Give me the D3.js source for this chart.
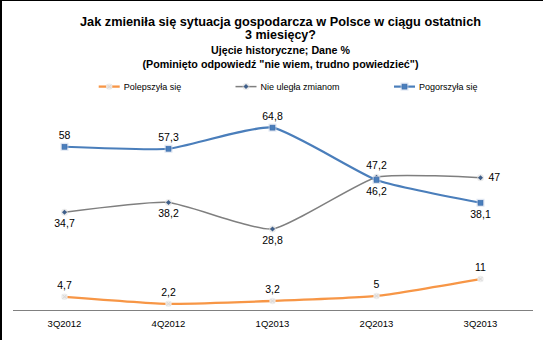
<!DOCTYPE html>
<html>
<head>
<meta charset="utf-8">
<script src="https://cdn.jsdelivr.net/npm/d3@7/dist/d3.min.js"></script>
<style>
  html, body { margin: 0; padding: 0; background: #fff; }
  svg { display: block; font-family: "Liberation Sans", Arial, sans-serif; }
</style>
</head>
<body>
<svg id="chart" width="543" height="340"></svg>
<script>
// Quarters on the x axis
const quarters = ["3Q2012", "4Q2012", "1Q2013", "2Q2013", "3Q2013"];

// Survey answers, percent
const better    = [4.7, 2.2, 3.2, 5, 11];        // Polepszyła się
const unchanged = [34.7, 38.2, 28.8, 47.2, 47];  // Nie uległa zmianom
const worse     = [58, 57.3, 64.8, 46.2, 38.1];  // Pogorszyła się

// Where each value label sits relative to its point
const betterPos    = ["above", "above", "above", "above", "above"];
const unchangedPos = ["below", "below", "below", "above", "right"];
const worsePos     = ["above", "above", "above", "below", "below"];

const titleLines = [
  "Jak zmieniła się sytuacja gospodarcza  w Polsce w ciągu ostatnich",
  "3 miesięcy?"
];
const subtitleLines = [
  "Ujęcie historyczne; Dane %",
  "(Pominięto odpowiedź  \"nie wiem, trudno powiedzieć\")"
];

const series = [
  { name: "Polepszyła się",     values: better,    pos: betterPos,    color: "#f79646", width: 2.3, marker: "x" },
  { name: "Nie uległa zmianom", values: unchanged, pos: unchangedPos, color: "#7f7f7f", width: 1.5, marker: "diamond" },
  { name: "Pogorszyła się",     values: worse,     pos: worsePos,     color: "#4a7ebb", width: 2.2, marker: "square" }
];

const svg = d3.select("#chart");

// frame (left and top edges visible)
svg.append("rect").attr("x", 0).attr("y", 0).attr("width", 543).attr("height", 340).attr("fill", "#fff");
svg.append("line").attr("x1", 1).attr("x2", 1).attr("y1", 0).attr("y2", 340).attr("stroke", "#000").attr("stroke-width", 2);
svg.append("line").attr("x1", 0).attr("x2", 543).attr("y1", 0.5).attr("y2", 0.5).attr("stroke", "#000").attr("stroke-width", 1);

// titles
const titleWidths = [401, null];
titleLines.forEach((t, i) => {
  const el = svg.append("text")
    .attr("x", 280.5).attr("y", 25.5 + i * 13.5)
    .attr("text-anchor", "middle")
    .attr("font-size", 12.5).attr("font-weight", "bold").attr("fill", "#000")
    .text(t);
  if (titleWidths[i]) el.attr("textLength", titleWidths[i]).attr("lengthAdjust", "spacingAndGlyphs");
});
const subWidths = [139, 276];
subtitleLines.forEach((t, i) => {
  svg.append("text")
    .attr("x", 280.5).attr("y", 53.5 + i * 14.5)
    .attr("text-anchor", "middle")
    .attr("font-size", 11).attr("font-weight", "bold").attr("fill", "#000")
    .attr("textLength", subWidths[i]).attr("lengthAdjust", "spacingAndGlyphs")
    .text(t);
});

// scales
const x = d3.scaleBand().domain(quarters).range([12.5, 532.5]);
const cx = q => x(q) + x.bandwidth() / 2;
const y = d3.scaleLinear().domain([0, 70]).range([310, 113]);

// x axis
const xAxis = d3.axisBottom(x).tickSize(0).tickPadding(10);
const gx = svg.append("g").attr("transform", "translate(0,310)").call(xAxis);
gx.select(".domain").attr("stroke", "#808080").attr("stroke-width", 1);
gx.selectAll("text").attr("font-size", 9.5).attr("fill", "#000")
  .attr("font-family", "Liberation Sans, Arial, sans-serif");

function drawMarker(g, type, px, py, color) {
  if (type === "square") {
    g.append("rect").attr("x", px - 4).attr("y", py - 4).attr("width", 8).attr("height", 8)
      .attr("fill", "#c9d6ea").attr("opacity", 0.6);
    g.append("rect").attr("x", px - 2.5).attr("y", py - 2.5).attr("width", 5).attr("height", 5)
      .attr("fill", color).attr("stroke", "#3a6aa8").attr("stroke-width", 0.5);
  } else if (type === "diamond") {
    g.append("circle").attr("cx", px).attr("cy", py).attr("r", 3.5).attr("fill", "#ddd").attr("opacity", 0.6);
    g.append("path").attr("d", `M${px},${py - 2.5}L${px + 2.5},${py}L${px},${py + 2.5}L${px - 2.5},${py}Z`)
      .attr("fill", "#3f5f8a");
  } else {
    g.append("circle").attr("cx", px).attr("cy", py).attr("r", 3.2).attr("fill", "#ececec").attr("opacity", 0.9);
    g.append("path").attr("d", `M${px - 2},${py - 2}L${px + 2},${py + 2}M${px - 2},${py + 2}L${px + 2},${py - 2}`)
      .attr("stroke", "#d8d8d8").attr("stroke-width", 1);
  }
}

// gently smoothed lines
const line = d3.line().curve(d3.curveCardinal.tension(0.5));
const fmt = v => String(v).replace(".", ",");

series.forEach(s => {
  const pts = s.values.map((v, i) => [cx(quarters[i]), y(v)]);
  svg.append("path").attr("d", line(pts)).attr("fill", "none")
    .attr("stroke", s.color).attr("stroke-width", s.width).attr("stroke-linejoin", "round");
});

series.forEach(s => {
  const g = svg.append("g");
  s.values.forEach((v, i) => drawMarker(g, s.marker, cx(quarters[i]), y(v), s.color));
});

// value labels
series.forEach(s => {
  s.values.forEach((v, i) => {
    const px = cx(quarters[i]), py = y(v);
    const t = svg.append("text").attr("font-size", 10.5).attr("fill", "#000").text(fmt(v));
    if (s.pos[i] === "above") {
      t.attr("x", px).attr("y", py - 8).attr("text-anchor", "middle");
    } else if (s.pos[i] === "below") {
      t.attr("x", px).attr("y", py + 15).attr("text-anchor", "middle");
    } else {
      t.attr("x", px + 8).attr("y", py + 3.5).attr("text-anchor", "start");
    }
  });
});

// legend
const legendX = [98.7, 235.5, 394];
const legendY = 86.6;
series.forEach((s, i) => {
  const g = svg.append("g");
  g.append("line").attr("x1", legendX[i]).attr("x2", legendX[i] + 21)
    .attr("y1", legendY).attr("y2", legendY)
    .attr("stroke", s.color).attr("stroke-width", s.width);
  drawMarker(g, s.marker, legendX[i] + 10.5, legendY, s.color);
  g.append("text").attr("x", legendX[i] + 25).attr("y", legendY + 3.2)
    .attr("font-size", 9).attr("fill", "#000").text(s.name);
});
</script>
</body>
</html>
